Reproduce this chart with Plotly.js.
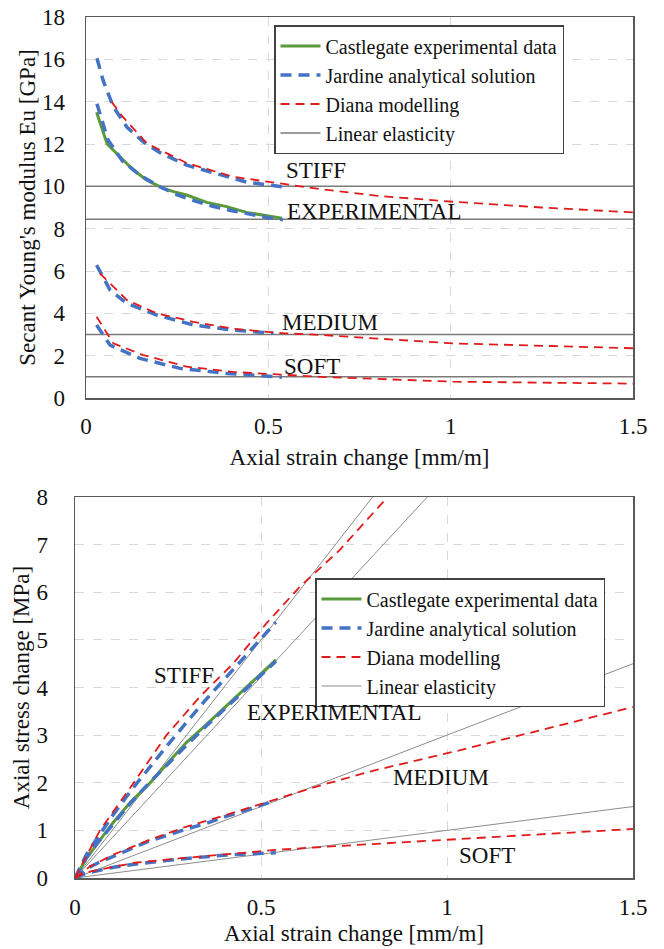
<!DOCTYPE html>
<html>
<head>
<meta charset="utf-8">
<script src="https://cdn.plot.ly/plotly-3.0.1.min.js"></script>
<style>html,body{margin:0;padding:0;background:#fff;}#chart{width:664px;height:949px;}</style>
</head>
<body>
<div id="chart"></div>
<script>
// ---------- TOP CHART: secant Young's modulus Eu [GPa] vs axial strain change [mm/m] ----------
const expX      = [0.029, 0.058, 0.093, 0.13, 0.166, 0.212, 0.24, 0.276, 0.331, 0.386, 0.44, 0.496, 0.537];
const expEu     = [13.5, 12.0, 11.4, 10.77, 10.3, 9.9, 9.75, 9.59, 9.24, 9.04, 8.77, 8.6, 8.49];

const jarStiffX  = [0.03, 0.047, 0.075, 0.112, 0.157, 0.203, 0.276, 0.359, 0.44, 0.537];
const jarStiffEu = [16.05, 15.0, 13.76, 12.8, 12.1, 11.59, 11.0, 10.6, 10.2, 9.98];
const jarExpX    = [0.03, 0.06, 0.1, 0.15, 0.2, 0.25, 0.3, 0.35, 0.4, 0.45, 0.5, 0.54];
const jarExpEu   = [13.9, 12.2, 11.2, 10.5, 10.0, 9.6, 9.3, 9.05, 8.85, 8.68, 8.52, 8.42];
const jarMedX    = [0.029, 0.066, 0.112, 0.194, 0.294, 0.404, 0.514];
const jarMedEu   = [6.28, 5.1, 4.47, 3.92, 3.45, 3.21, 3.06];
const jarSoftX   = [0.029, 0.066, 0.148, 0.258, 0.386, 0.537];
const jarSoftEu  = [3.45, 2.5, 1.87, 1.4, 1.16, 0.98];

const diaStiffX  = [0.07, 0.1, 0.167, 0.276, 0.404, 0.541, 0.642, 0.8, 1.008, 1.25, 1.5];
const diaStiffEu = [14.0, 13.3, 12.03, 11.1, 10.45, 10.1, 9.87, 9.55, 9.27, 9.0, 8.77];
const diaMedX    = [0.038, 0.112, 0.194, 0.294, 0.404, 0.541, 0.642, 1.008, 1.5];
const diaMedEu   = [5.89, 4.63, 4.0, 3.6, 3.27, 3.06, 2.98, 2.58, 2.35];
const diaSoftX   = [0.029, 0.075, 0.157, 0.276, 0.404, 0.541, 0.642, 1.008, 1.5];
const diaSoftEu  = [3.84, 2.58, 2.03, 1.48, 1.23, 1.09, 1.0, 0.77, 0.68];

const linTopX      = [0, 1.5];
const linStiffEu   = [10, 10];
const linExpEu     = [8.44, 8.44];
const linMedEu     = [3, 3];
const linSoftEu    = [1, 1];

// ---------- BOTTOM CHART: axial stress change [MPa] vs axial strain change [mm/m] ----------
const expStressX = [0, 0.03, 0.06, 0.1, 0.15, 0.2, 0.25, 0.3, 0.35, 0.4, 0.45, 0.5, 0.54];
const expStress  = [0, 0.4, 0.72, 1.14, 1.6, 1.98, 2.42, 2.85, 3.2, 3.56, 3.92, 4.3, 4.58];

const jarStressX      = [0, 0.03, 0.06, 0.1, 0.15, 0.2, 0.25, 0.3, 0.35, 0.4, 0.45, 0.5, 0.54];
const jarStiffStress  = [0, 0.48, 0.84, 1.3, 1.83, 2.32, 2.8, 3.27, 3.73, 4.16, 4.59, 5.02, 5.37];
const jarExpStress    = [0, 0.42, 0.73, 1.12, 1.58, 2.0, 2.4, 2.79, 3.17, 3.54, 3.9, 4.26, 4.55];
const jarMedStress    = [0, 0.19, 0.31, 0.45, 0.62, 0.78, 0.9, 1.03, 1.14, 1.28, 1.4, 1.53, 1.63];
const jarSoftStress   = [0, 0.1, 0.15, 0.22, 0.28, 0.33, 0.37, 0.41, 0.45, 0.48, 0.5, 0.52, 0.53];

const diaStiffSX = [0, 0.067, 0.157, 0.246, 0.336, 0.426, 0.515, 0.605, 0.712, 0.838];
const diaStiffS  = [0, 1.0, 1.99, 3.0, 3.81, 4.51, 5.35, 6.12, 6.89, 7.98];
const diaMedSX   = [0, 0.04, 0.1, 0.2, 0.3, 0.4, 0.54, 0.64, 0.8, 1.017, 1.25, 1.5];
const diaMedS    = [0, 0.24, 0.48, 0.8, 1.08, 1.31, 1.65, 1.9, 2.25, 2.65, 3.1, 3.59];
const diaSoftSX  = [0, 0.03, 0.075, 0.16, 0.28, 0.4, 0.54, 0.64, 1.017, 1.5];
const diaSoftS   = [0, 0.12, 0.19, 0.32, 0.41, 0.49, 0.59, 0.64, 0.81, 1.03];

const linStiffSX = [0, 0.8];   const linStiffS = [0, 8];
const linExpSX   = [0, 0.947]; const linExpS   = [0, 8];
const linMedSX   = [0, 1.5];   const linMedS   = [0, 4.5];
const linSoftSX  = [0, 1.5];   const linSoftS  = [0, 1.5];

const names = ['Castlegate experimental data', 'Jardine analytical solution', 'Diana modelling', 'Linear elasticity'];
const xTicks = [0, 0.5, 1, 1.5];
const xTickText = ['0', '0.5', '1', '1.5'];

// join several segments into one trace with null gaps
function join(pairs) {
  const x = [], y = [];
  pairs.forEach((p, i) => {
    if (i > 0) { x.push(null); y.push(null); }
    x.push(...p[0]); y.push(...p[1]);
  });
  return {x, y};
}

const FONT = '"Liberation Serif", "Times New Roman", serif';
const FS = 23;
const LFS = 20;
const GREEN = '#5b9a3a', BLUE = '#4472c4', RED = '#e01b1b', GREY_TOP = '#7a7a7a', GREY_BOT = '#8c8c8c';

function styles(sub) {
  return [
    {line: {color: sub === 1 ? GREY_TOP : GREY_BOT, width: sub === 1 ? 1.5 : 1}},
    {line: {color: GREEN, width: 3}},
    {line: {color: BLUE, width: 3.5, dash: '11px,7px'}},
    {line: {color: RED, width: 1.8, dash: '9px,6px'}}
  ];
}

const traces = [];
function addSet(sub, lin, exp, jar, dia) {
  const st = styles(sub);
  const xa = sub === 1 ? 'x' : 'x2', ya = sub === 1 ? 'y' : 'y2';
  const lg = sub === 1 ? 'legend' : 'legend2';
  const defs = [
    [lin, names[3], 4, st[0]],
    [exp, names[0], 1, st[1]],
    [jar, names[1], 2, st[2]],
    [dia, names[2], 3, st[3]]
  ];
  defs.forEach(d => {
    traces.push(Object.assign({
      type: 'scatter', mode: 'lines', x: d[0].x, y: d[0].y, name: d[1],
      xaxis: xa, yaxis: ya, legend: lg, legendrank: d[2], connectgaps: false,
      hoverinfo: 'skip'
    }, d[3]));
  });
}

addSet(1,
  join([[linTopX, linStiffEu], [linTopX, linExpEu], [linTopX, linMedEu], [linTopX, linSoftEu]]),
  join([[expX, expEu]]),
  join([[jarStiffX, jarStiffEu], [jarExpX, jarExpEu], [jarMedX, jarMedEu], [jarSoftX, jarSoftEu]]),
  join([[diaStiffX, diaStiffEu], [diaMedX, diaMedEu], [diaSoftX, diaSoftEu]])
);
addSet(2,
  join([[linStiffSX, linStiffS], [linExpSX, linExpS], [linMedSX, linMedS], [linSoftSX, linSoftS]]),
  join([[expStressX, expStress]]),
  join([[jarStressX, jarStiffStress], [jarStressX, jarExpStress], [jarStressX, jarMedStress], [jarStressX, jarSoftStress]]),
  join([[diaStiffSX, diaStiffS], [diaMedSX, diaMedS], [diaSoftSX, diaSoftS]])
);

const axisCommon = {
  showline: true, mirror: true, linecolor: '#595959', linewidth: 1.5,
  showgrid: true, gridcolor: '#d9d9d9', griddash: 'dash', gridwidth: 1,
  zeroline: false, ticks: '', automargin: false,
  tickfont: {family: FONT, size: FS, color: '#111'}
};
const titleFont = {family: FONT, size: FS, color: '#111'};

const W = 664, H = 949;
const layout = {
  width: W, height: H,
  margin: {l: 0, r: 0, t: 0, b: 0},
  paper_bgcolor: '#fff', plot_bgcolor: '#fff',
  font: {family: FONT, size: FS, color: '#111'},
  showlegend: true,
  xaxis: Object.assign({}, axisCommon, {
    domain: [86 / W, 633 / W], range: [0, 1.5], tickvals: xTicks, ticktext: xTickText,
    anchor: 'y', ticklabelstandoff: 7,
    title: {text: 'Axial strain change [mm/m]', font: titleFont, standoff: 11}
  }),
  yaxis: Object.assign({}, axisCommon, {
    domain: [1 - 398 / H, 1 - 17 / H], range: [0, 18], dtick: 2, anchor: 'x',
    ticklabelstandoff: 15,
    title: {text: "Secant Young's modulus Eu [GPa]", font: titleFont, standoff: 0}
  }),
  xaxis2: Object.assign({}, axisCommon, {
    domain: [75 / W, 633 / W], range: [0, 1.5], tickvals: xTicks, ticktext: xTickText,
    anchor: 'y2', ticklabelstandoff: 8,
    title: {text: 'Axial strain change [mm/m]', font: titleFont, standoff: 6}
  }),
  yaxis2: Object.assign({}, axisCommon, {
    domain: [1 - 878 / H, 1 - 497 / H], range: [0, 8], dtick: 1, anchor: 'x2',
    ticklabelstandoff: 21,
    title: {text: 'Axial stress change [MPa]', font: titleFont, standoff: 0}
  }),
  legend: {
    x: 274 / W, y: 1 - 25 / H, xanchor: 'left', yanchor: 'top',
    bgcolor: '#fff', bordercolor: '#404040', borderwidth: 1.5,
    font: {family: FONT, size: LFS, color: '#111'}, traceorder: 'normal',
    itemwidth: 40, tracegroupgap: 0
  },
  legend2: {
    x: 315 / W, y: 1 - 578 / H, xanchor: 'left', yanchor: 'top',
    bgcolor: '#fff', bordercolor: '#404040', borderwidth: 1.5,
    font: {family: FONT, size: LFS, color: '#111'}, traceorder: 'normal',
    itemwidth: 40, tracegroupgap: 0
  },
  annotations: [
    {xref: 'x', yref: 'y', x: 0.63, y: 10.77, text: 'STIFF'},
    {xref: 'x', yref: 'y', x: 0.79, y: 8.79, text: 'EXPERIMENTAL'},
    {xref: 'x', yref: 'y', x: 0.67, y: 3.59, text: 'MEDIUM'},
    {xref: 'x', yref: 'y', x: 0.62, y: 1.5, text: 'SOFT'},
    {xref: 'x2', yref: 'y2', x: 0.293, y: 4.26, text: 'STIFF'},
    {xref: 'x2', yref: 'y2', x: 0.697, y: 3.47, text: 'EXPERIMENTAL'},
    {xref: 'x2', yref: 'y2', x: 0.984, y: 2.1, text: 'MEDIUM'},
    {xref: 'x2', yref: 'y2', x: 1.108, y: 0.48, text: 'SOFT'}
  ].map(a => Object.assign({showarrow: false, font: {family: FONT, size: FS, color: '#111'}}, a))
};

Plotly.newPlot('chart', traces, layout, {displayModeBar: false, staticPlot: true});
</script>
</body>
</html>
